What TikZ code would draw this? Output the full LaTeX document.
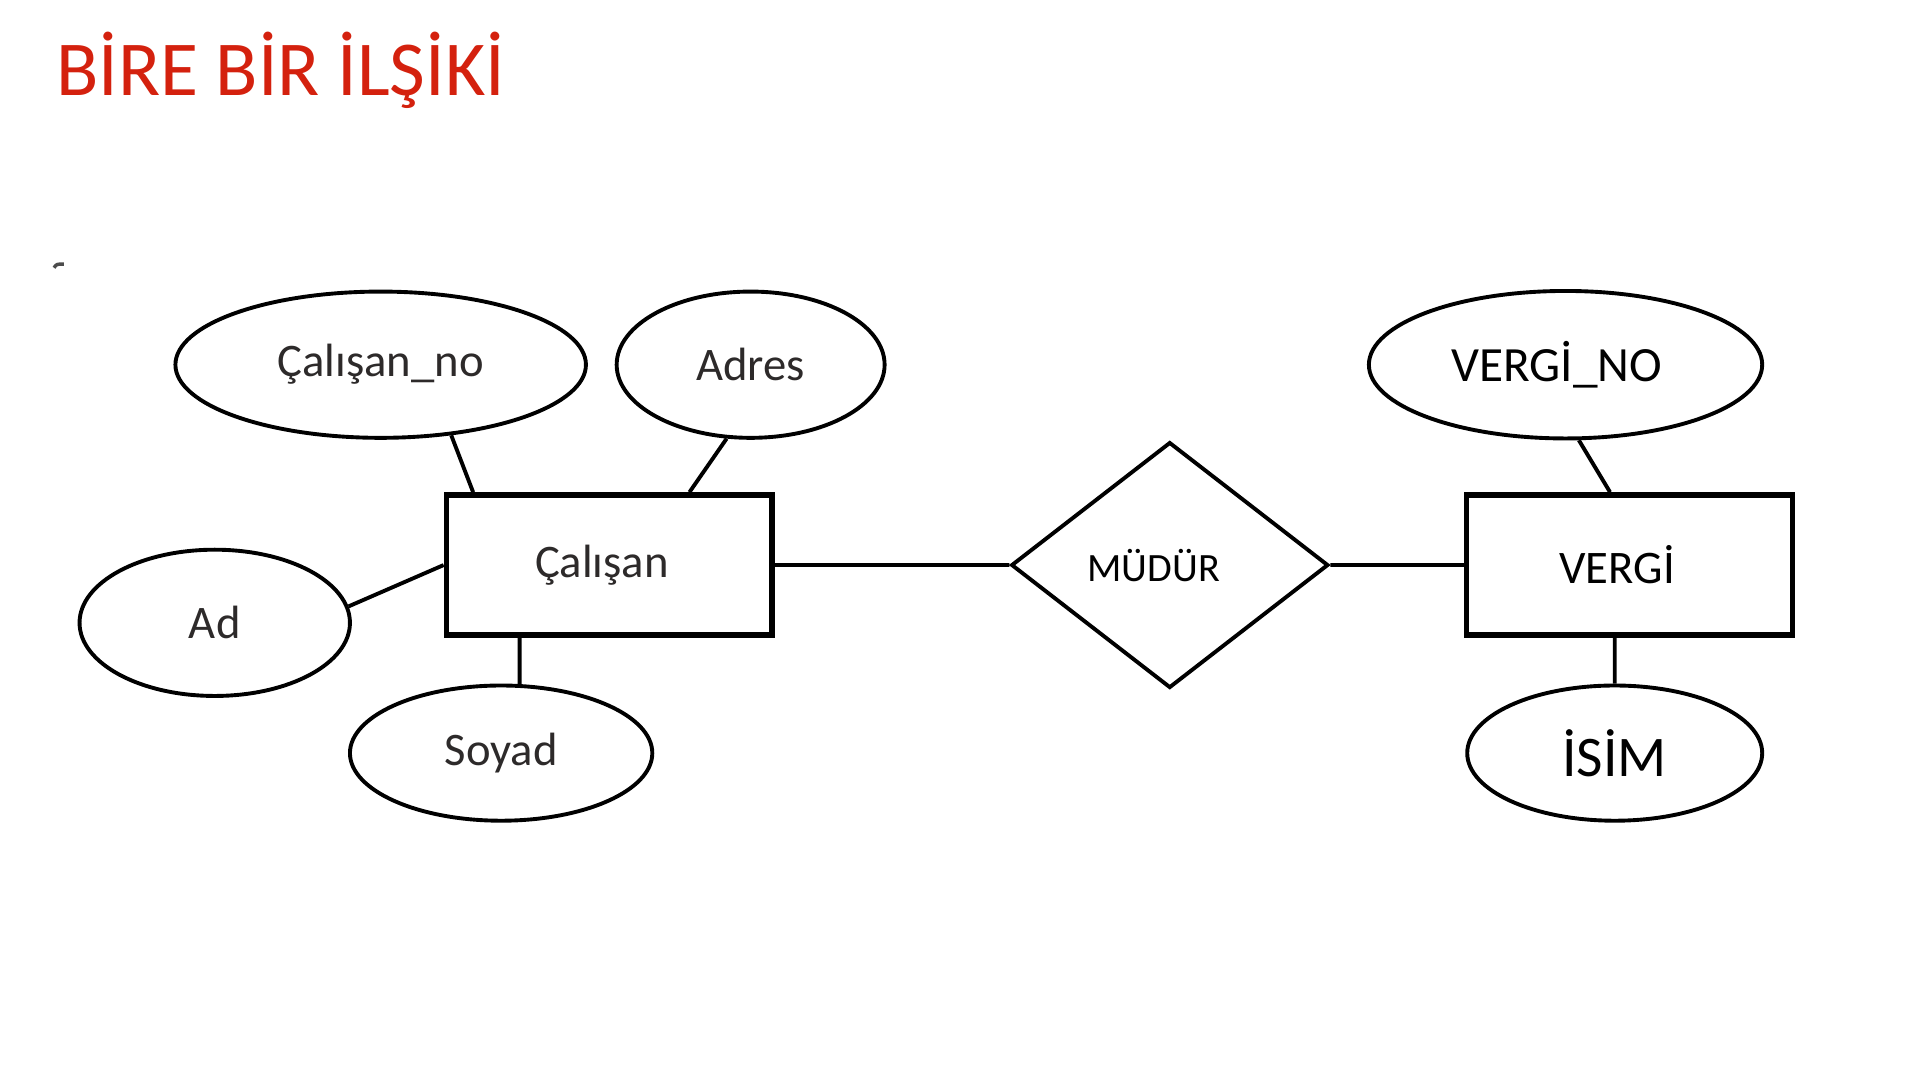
\documentclass[tikz,border=0pt]{standalone}
\usepackage{fontspec}
\setmainfont{Carlito}
\usepackage{tikz}
\usetikzlibrary{positioning,shapes.geometric}
\definecolor{titlered}{RGB}{212,33,14}
\definecolor{labelgray}{RGB}{45,42,42}

\begin{document}
\begin{tikzpicture}[x=0.01cm,y=-0.01cm,on grid,
        attr/.style={ellipse,draw,line width=0.9pt,inner sep=0pt,text=labelgray,font=\fontsize{10.8}{13}\selectfont},
        entity/.style={rectangle,draw,line width=1.3pt,minimum width=2.65cm,minimum height=1.14cm,inner sep=0pt,font=\fontsize{10.8}{13}\selectfont},
        rel/.style={diamond,draw,line width=0.9pt,minimum width=2.58cm,minimum height=2cm,inner sep=0pt,font=\fontsize{9.3}{11}\selectfont},
        link/.style={draw,line width=0.9pt}]
        \useasboundingbox (0,0) rectangle (1563,880);
        \node[anchor=base west,inner sep=0pt,text=titlered,font=\fontsize{18}{22}\selectfont] (title) at (45,78) {BİRE BİR İLŞİKİ};
        \draw[line width=0.8pt,black!70] (44,218) .. controls (46,215) .. (52,215);
        \node[entity] (cal) at (496,460) {\textcolor{labelgray}{Çalışan}\hspace*{0.12cm}};
        \node[attr,minimum width=3.34cm,minimum height=1.19cm] (cno) [above left=1.63cm and 1.86cm of cal] {Çalışan\_no};
        \node[attr,minimum width=2.18cm,minimum height=1.19cm] (adr) [above right=1.63cm and 1.15cm of cal] {Adres};
        \node[attr,minimum width=2.2cm,minimum height=1.19cm] (ad) [below left=0.47cm and 3.21cm of cal] {Ad};
        \node[attr,minimum width=2.46cm,minimum height=1.1cm] (soy) [below left=1.53cm and 0.88cm of cal] {Soyad};
        \node[rel] (mud) [right=4.56cm of cal] {MÜDÜR\hspace*{0.26cm}};
        \node[entity] (vrg) [right=3.74cm of mud] {VERGİ\hspace*{0.2cm}};
        \node[attr,minimum width=3.2cm,minimum height=1.2cm,text=black,font=\fontsize{11.4}{13}\selectfont] (vno) [above left=1.63cm and 0.52cm of vrg] {VERGİ\_NO\hspace*{0.14cm}};
        \node[attr,minimum width=2.4cm,minimum height=1.1cm,text=black,font=\fontsize{13.3}{15}\selectfont] (isim) [below left=1.53cm and 0.12cm of vrg] {İSİM};
        \path[link] (cno.-45) -- ([xshift=0.24cm]cal.north west)
                (adr.-108) -- ([xshift=2cm]cal.north west)
                (ad.7) -- (cal.west)
                (cal.south -| soy.75) -- (soy.75)
                (cal.east) -- (mud.west)
                (mud.east) -- (vrg.west)
                (vno.-80) -- ([xshift=1.19cm]vrg.north west)
                (vrg.south -| isim.north) -- (isim.north);
\end{tikzpicture}
\end{document}
